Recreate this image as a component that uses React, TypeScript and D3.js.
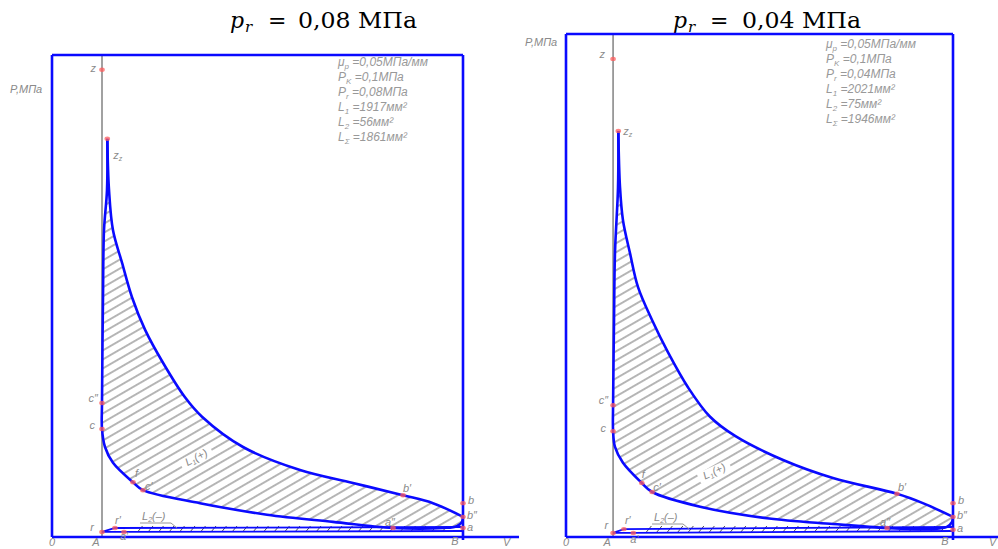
import React from "react";
import * as d3 from "d3";

type Pt = [number, number]; // [V in units of Vc, p in MPa]

// position of B on the V axis (A = 1)
const V_B = 8.22;

// ---- p_r = 0,08 MPa diagram ----
const leftExpansion: Pt[] = [
  [1.106, 5.53], [1.14, 4.82], [1.22, 4.26], [1.4, 3.81], [1.6, 3.33], [1.86, 2.88],
  [2.22, 2.42], [2.66, 1.94], [3.0, 1.67], [3.82, 1.25], [4.96, 0.93], [6.02, 0.75],
  [7.02, 0.58], [7.62, 0.47], [8.22, 0.28],
];
const leftCompression: Pt[] = [
  [8.22, 0.28], [8.2, 0.21], [8.1, 0.15], [7.82, 0.125], [6.82, 0.125], [5.62, 0.21],
  [4.3, 0.31], [2.96, 0.47], [1.82, 0.65], [1.62, 0.76], [1.22, 1.03], [1.06, 1.25],
  [1.0, 1.5], [1.0, 1.86], [1.02, 3.33], [1.04, 4.26], [1.1, 4.82], [1.106, 5.53],
];
const leftExhaust: Pt[] = [[1, 0.07], [1.26, 0.125], [8.22, 0.139]];
const leftIntake: Pt[] = [[1, 0.07], [1.44, 0.07], [8.22, 0.083]];
const leftPointNames = ["z", "zz", "c''", "c", "f", "c'", "b'", "b", "b''", "a", "a''", "r", "r'", "a'"];
const leftPointV = [1, 1.106, 1, 1, 1.62, 1.82, 7.02, 8.22, 8.22, 8.22, 6.82, 1, 1.26, 1.44];
const leftPointP = [6.49, 5.53, 1.86, 1.5, 0.76, 0.65, 0.58, 0.47, 0.28, 0.125, 0.125, 0.07, 0.125, 0.07];
const leftLegendValues = ["=0,05МПа/мм", "=0,1МПа", "=0,08МПа", "=1917мм²", "=56мм²", "=1861мм²"];

// ---- p_r = 0,04 MPa diagram ----
const rightExpansion: Pt[] = [
  [1.111, 5.64], [1.147, 4.86], [1.21, 4.4], [1.36, 3.94], [1.53, 3.47], [1.83, 3.01],
  [2.17, 2.56], [2.59, 2.08], [3.06, 1.67], [3.6, 1.4], [4.61, 1.07], [5.67, 0.82],
  [7.03, 0.6], [7.58, 0.47], [8.22, 0.28],
];
const rightCompression: Pt[] = [
  [8.22, 0.28], [8.2, 0.21], [8.09, 0.14], [7.8, 0.11], [6.82, 0.125], [5.67, 0.18],
  [4.27, 0.26], [2.85, 0.42], [1.83, 0.625], [1.61, 0.75], [1.21, 1.03], [1.04, 1.25],
  [1.0, 1.47], [1.0, 1.83], [1.02, 3.01], [1.04, 3.94], [1.105, 4.86], [1.111, 5.64],
];
const rightExhaust: Pt[] = [[1, 0.056], [1.23, 0.11], [8.22, 0.139]];
const rightIntake: Pt[] = [[1, 0.056], [1.43, 0.056], [8.22, 0.083]];
const rightPointNames = ["z", "zz", "c''", "c", "f", "c'", "b'", "b", "b''", "a", "a''", "r", "r'", "a'"];
const rightPointV = [1, 1.111, 1, 1, 1.61, 1.83, 7.03, 8.22, 8.22, 8.22, 6.82, 1, 1.23, 1.43];
const rightPointP = [6.64, 5.64, 1.83, 1.47, 0.75, 0.625, 0.6, 0.47, 0.28, 0.1, 0.125, 0.056, 0.11, 0.056];
const rightLegendValues = ["=0,05МПа/мм", "=0,1МПа", "=0,04МПа", "=2021мм²", "=75мм²", "=1946мм²"];

const legendSymbols = [["μ", "p"], ["P", "K"], ["P", "r"], ["L", "1"], ["L", "2"], ["L", "Σ"]];

const AXIS_Y = 537;
const BLUE = "#0a0aff";
const GREY = "#8a8a8a";
const CAD_FONT = "'Liberation Sans', sans-serif";

// label offsets from each point: dx, dy, anchor
const leftLabelPos = {
  z: [-6, 2, "end"], zz: [6, 20, "start"], "c''": [-4, -1, "end"], c: [-7, 0, "end"],
  f: [2, -5, "start"], "c'": [2, 0, "start"], "b'": [0, -3, "start"], b: [5, 1, "start"],
  "b''": [4, 2, "start"], a: [4, 3, "start"], "a''": [-8, -2, "start"], r: [-8, -1, "end"],
  "r'": [0, -4, "start"], "a'": [-4, 8, "start"],
};
const rightLabelPos = {
  z: [-8, -1, "end"], zz: [5, 4, "start"], "c''": [-5, -1, "end"], c: [-7, 1, "end"],
  f: [0, -5, "start"], "c'": [1, -1, "start"], "b'": [1, -3, "start"], b: [5, 1, "start"],
  "b''": [4, 2, "start"], a: [4, 2, "start"], "a''": [-7, -2, "start"], r: [-5, -4, "end"],
  "r'": [1, -5, "start"], "a'": [-3, 10, "start"],
};

const panels = [
  {
    id: "l", x0: 52, xB: 463, top: 55, pTop: 6.694, axisEnd: 519, vLabel: 503,
    pLabel: [10, 93], titleX: [230, 268, 298], titleValue: "0,08 МПа",
    legend: [338, 66], legendValues: leftLegendValues,
    expansion: leftExpansion, compression: leftCompression, exhaust: leftExhaust, intake: leftIntake,
    names: leftPointNames, pv: leftPointV, pp: leftPointP, labelPos: leftLabelPos,
    l1: [197, 459, -28], l2: [140, 520],
  },
  {
    id: "r", x0: 566, xB: 953, top: 34, pTop: 6.986, axisEnd: 998, vLabel: 989,
    pLabel: [525, 46], titleX: [673, 710, 742], titleValue: "0,04 МПа",
    legend: [826, 48], legendValues: rightLegendValues,
    expansion: rightExpansion, compression: rightCompression, exhaust: rightExhaust, intake: rightIntake,
    names: rightPointNames, pv: rightPointV, pp: rightPointP, labelPos: rightLabelPos,
    l1: [715, 473, -25], l2: [652, 521],
  },
];

function PointLabel({ name, x, y, pos }) {
  const [dx, dy, anchor] = pos;
  const style = { fontFamily: CAD_FONT, fontStyle: "italic", fontSize: 11, fill: GREY };
  if (name === "zz") {
    return (
      <text x={x + dx} y={y + dy} textAnchor={anchor} style={style}>
        z<tspan fontSize={7} dy={2}>z</tspan>
      </text>
    );
  }
  const txt = name.replace("''", "″").replace("'", "′");
  return (
    <text x={x + dx} y={y + dy} textAnchor={anchor} style={style}>{txt}</text>
  );
}

function Panel({ cfg }) {
  const x = d3.scaleLinear().domain([0, V_B]).range([cfg.x0, cfg.xB]);
  const y = d3.scaleLinear().domain([0, cfg.pTop]).range([AXIS_Y, cfg.top]);
  const curve = d3.line<Pt>().x((d) => x(d[0])).y((d) => y(d[1])).curve(d3.curveCatmullRom.alpha(0.5));
  const straight = d3.line<Pt>().x((d) => x(d[0])).y((d) => y(d[1]));

  const expD = curve(cfg.expansion);
  const compD = curve(cfg.compression);
  const areaD = expD + compD.replace(/^M/, "L") + "Z";

  const xA = x(1);
  const xB = x(V_B);
  const yEx = y(cfg.exhaust[2][1]);
  const yIn = y(cfg.intake[2][1]);
  const slashes = d3.range(x(1.75), x(8.05), 10.5);

  const small = { fontFamily: CAD_FONT, fontStyle: "italic", fontSize: 11, fill: GREY };
  const legendStyle = { fontFamily: CAD_FONT, fontStyle: "italic", fontSize: 12, fill: "#999" };

  return (
    <g>
      <defs>
        <pattern id={"hatch-" + cfg.id} patternUnits="userSpaceOnUse" width={12} height={7.8}
          patternTransform="rotate(-30)">
          <line x1={0} y1={3.9} x2={12} y2={3.9} stroke="#3a3a3a" strokeWidth={0.75} />
        </pattern>
      </defs>

      {/* title */}
      <g style={{ fontFamily: "'DejaVu Serif', serif", fill: "#000" }}>
        <text x={cfg.titleX[0]} y={28} fontSize={22} fontStyle="italic">p</text>
        <text x={cfg.titleX[0] + 15} y={32} fontSize={15} fontStyle="italic">r</text>
        <text x={cfg.titleX[1]} y={28} fontSize={22}>=</text>
        <text x={cfg.titleX[2]} y={28} fontSize={22} textLength={119} lengthAdjust="spacingAndGlyphs">
          {cfg.titleValue}
        </text>
      </g>

      {/* frame and axes */}
      <line x1={xA} y1={cfg.top} x2={xA} y2={AXIS_Y} stroke={GREY} strokeWidth={1.6} />
      <line x1={cfg.x0} y1={cfg.top} x2={xB} y2={cfg.top} stroke={BLUE} strokeWidth={2.6} />
      <line x1={cfg.x0} y1={cfg.top} x2={cfg.x0} y2={AXIS_Y} stroke={BLUE} strokeWidth={2.6} />
      <line x1={xB} y1={cfg.top} x2={xB} y2={AXIS_Y + 3} stroke={BLUE} strokeWidth={2.6} />
      <line x1={cfg.x0} y1={AXIS_Y} x2={cfg.axisEnd} y2={AXIS_Y} stroke={BLUE} strokeWidth={2.6} />

      <text x={cfg.pLabel[0]} y={cfg.pLabel[1]} style={small}>P,МПа</text>
      <text x={cfg.x0} y={546} textAnchor="middle" style={small}>0</text>
      <text x={xA - 6} y={546} textAnchor="middle" style={small}>A</text>
      <text x={xB - 8} y={545} textAnchor="middle" style={small}>B</text>
      <text x={cfg.vLabel} y={546} style={small}>V</text>

      {/* legend */}
      {legendSymbols.map((s, i) => (
        <text key={i} x={cfg.legend[0]} y={cfg.legend[1] + i * 15} style={legendStyle}>
          {s[0]}
          <tspan fontSize={8} dy={3}>{s[1]}</tspan>
          <tspan dy={-3}>{" " + cfg.legendValues[i]}</tspan>
        </text>
      ))}

      {/* L1 positive work area */}
      <path d={areaD} fill={`url(#hatch-${cfg.id})`} stroke="none" />
      <g transform={`translate(${cfg.l1[0]},${cfg.l1[1]}) rotate(${cfg.l1[2]})`}>
        <rect x={-17} y={-7} width={34} height={11} fill="#fff" />
        <text x={0} y={2} textAnchor="middle" style={small}>
          L<tspan fontSize={7} dy={2}>1</tspan><tspan dy={-2}>(+)</tspan>
        </text>
      </g>

      {/* L2 pumping loop */}
      {slashes.map((sx, i) => (
        <line key={i} x1={sx - 2} y1={yIn + 1} x2={sx + 3} y2={yEx - 1} stroke="#3a3a3a" strokeWidth={0.9} />
      ))}
      <path d={straight(cfg.exhaust)} fill="none" stroke={BLUE} strokeWidth={1.8} />
      <path d={straight(cfg.intake)} fill="none" stroke={BLUE} strokeWidth={1.8} />
      <text x={cfg.l2[0] + 2} y={cfg.l2[1]} style={small}>
        L<tspan fontSize={7} dy={2}>2</tspan><tspan dy={-2}>(–)</tspan>
      </text>
      <polyline
        points={`${cfg.l2[0]},${cfg.l2[1] + 3} ${cfg.l2[0] + 31},${cfg.l2[1] + 3} ${cfg.l2[0] + 37},${cfg.l2[1] + 8}`}
        fill="none" stroke={GREY} strokeWidth={0.9} />

      {/* cycle curves */}
      <path d={expD} fill="none" stroke={BLUE} strokeWidth={2.6} strokeLinejoin="round" />
      <path d={compD} fill="none" stroke={BLUE} strokeWidth={2.6} strokeLinejoin="round" />

      {/* characteristic points */}
      {cfg.names.map((n, i) => {
        const px = x(cfg.pv[i]);
        const py = y(cfg.pp[i]);
        return (
          <g key={n}>
            <ellipse cx={px} cy={py} rx={2.8} ry={2.2} fill="#ff5c5c" opacity={0.75} />
            <PointLabel name={n} x={px} y={py} pos={cfg.labelPos[n]} />
          </g>
        );
      })}
    </g>
  );
}

export default function App() {
  return (
    <svg width={998} height={549} style={{ position: "absolute", left: 0, top: 0, background: "#fff" }}>
      <rect x={0} y={0} width={998} height={549} fill="#fff" />
      {panels.map((p) => (
        <Panel key={p.id} cfg={p} />
      ))}
    </svg>
  );
}
